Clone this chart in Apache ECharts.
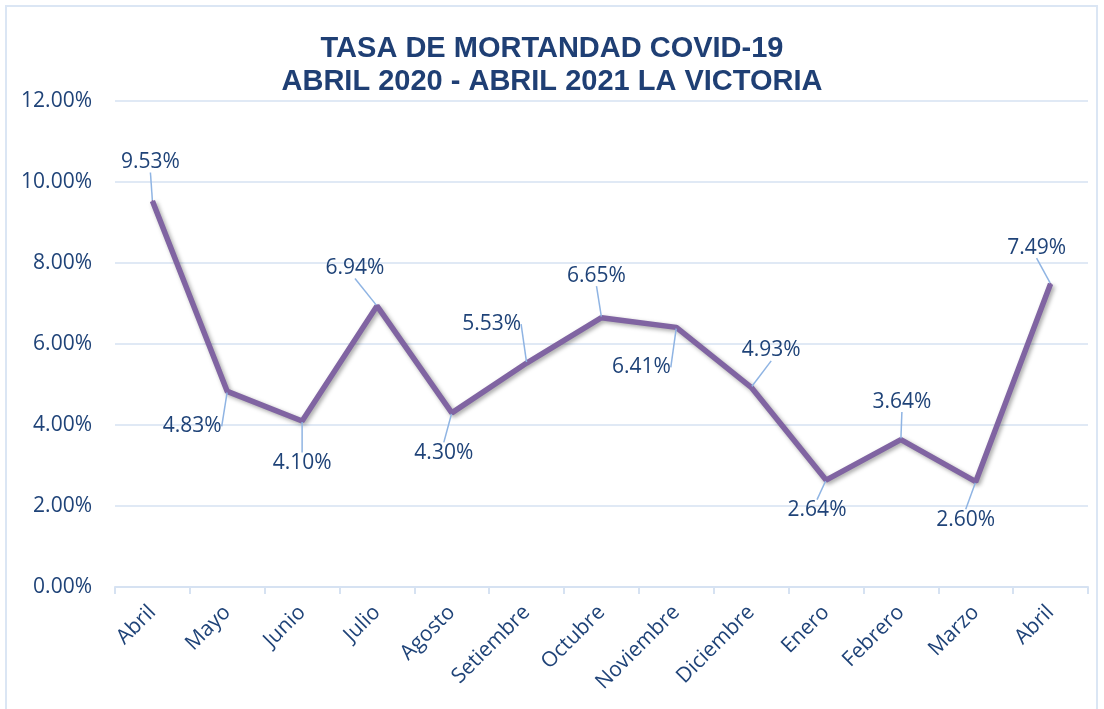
<!DOCTYPE html>
<html>
<head>
<meta charset="utf-8">
<script src="https://cdn.jsdelivr.net/npm/echarts@6/dist/echarts.min.js"></script>
<style>
  html, body { margin: 0; padding: 0; background: #ffffff; }
  #frame { position: absolute; left: 5px; top: 5px; width: 1093px; height: 720px; border: 2px solid #dbe6f4; box-sizing: border-box; }
  #chart { position: absolute; left: 0; top: 0; width: 1104px; height: 709px; }
</style>
</head>
<body>
<div id="frame"></div>
<div id="chart"></div>
<script>
// Monthly COVID-19 mortality rate (%), April 2020 – April 2021
const months = ['Abril', 'Mayo', 'Junio', 'Julio', 'Agosto', 'Setiembre', 'Octubre',
                'Noviembre', 'Diciembre', 'Enero', 'Febrero', 'Marzo', 'Abril'];
const rates = [9.53, 4.83, 4.10, 6.94, 4.30, 5.53, 6.65, 6.41, 4.93, 2.64, 3.64, 2.60, 7.49];

// Y axis range and step (%)
const yMin = 0;
const yMax = 12;
const yStep = 2;

// Label offsets (dx, dy) from each point, in pixels
const labelShift = [
  [-2, -39], [-35, 35], [0, 42], [-22, -38], [-8, 40], [-35, -39], [-5, -42],
  [-35, 40], [20, -37], [-9, 30], [1, -38], [-10, 38], [-14, -36]
];

const textColor = '#1f4378';
const chart = echarts.init(document.getElementById('chart'));
chart.setOption({
  animation: false,
  title: {
    text: 'TASA DE MORTANDAD COVID-19\nABRIL 2020 - ABRIL 2021 LA VICTORIA',
    left: 'center',
    top: 27,
    textStyle: {
      fontFamily: 'Liberation Sans, Arial, sans-serif',
      fontWeight: 'bold',
      fontSize: 29,
      lineHeight: 33,
      color: '#1f3f74'
    }
  },
  grid: { left: 115, right: 16, top: 101, bottom: 122 },
  xAxis: {
    type: 'category',
    data: months,
    boundaryGap: true,
    axisLine: { lineStyle: { color: '#d6e2f2', width: 2 } },
    axisTick: { show: true, length: 7, lineStyle: { color: '#d6e2f2', width: 2 } },
    axisLabel: {
      rotate: 45,
      interval: 0,
      margin: 22,
      color: textColor,
      fontSize: 21,
      fontFamily: 'Open Sans, sans-serif'
    }
  },
  yAxis: {
    type: 'value',
    min: yMin,
    max: yMax,
    interval: yStep,
    axisLine: { show: false },
    axisTick: { show: false },
    splitLine: { lineStyle: { color: '#d6e2f2', width: 1.5 } },
    axisLabel: {
      margin: 23,
      color: textColor,
      fontSize: 21,
      fontFamily: 'Open Sans, sans-serif',
      formatter: v => v.toFixed(2) + '%'
    }
  },
  series: [{
    type: 'line',
    data: rates,
    symbol: 'circle',
    symbolSize: 2,
    showSymbol: true,
    itemStyle: { color: '#8064a2' },
    lineStyle: {
      color: '#8064a2',
      width: 5.5,
      shadowColor: 'rgba(0,0,0,0.35)',
      shadowBlur: 4,
      shadowOffsetX: 2,
      shadowOffsetY: 2
    },
    label: {
      show: true,
      position: 'inside',
      color: textColor,
      fontSize: 21,
      fontFamily: 'Open Sans, sans-serif',
      formatter: p => p.value.toFixed(2) + '%'
    },
    labelLine: {
      show: true,
      lineStyle: { color: '#8fb4e3', width: 1.5 }
    },
    labelLayout: p => ({ dx: labelShift[p.dataIndex][0], dy: labelShift[p.dataIndex][1] })
  }]
});
</script>
</body>
</html>
